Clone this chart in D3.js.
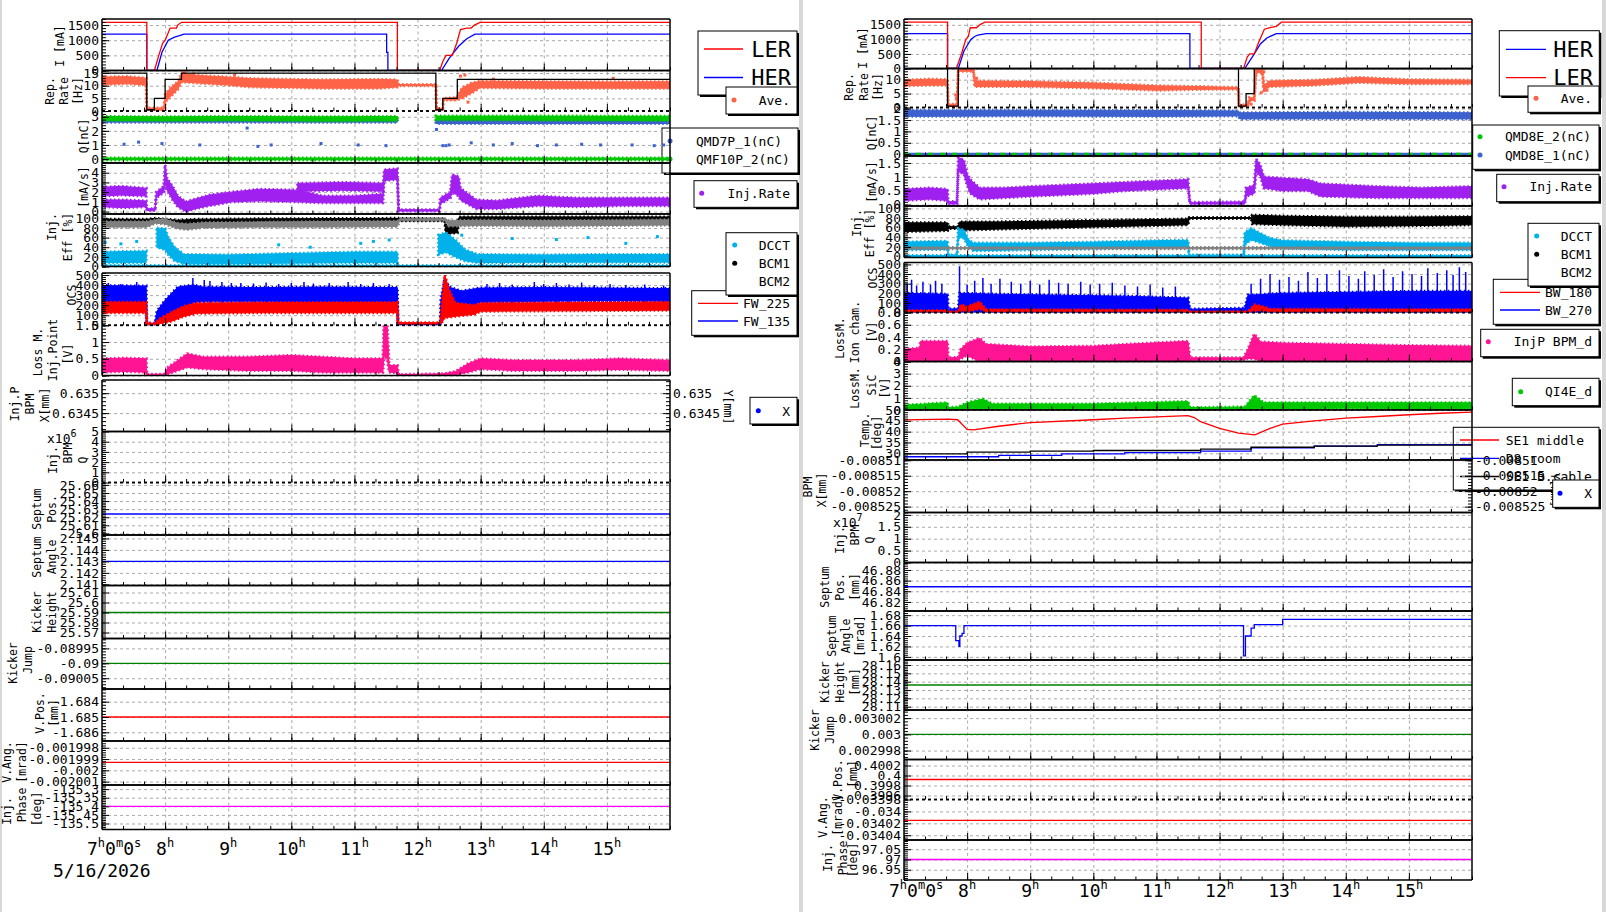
<!DOCTYPE html>
<html>
<head>
<meta charset="utf-8">
<script src="https://cdn.jsdelivr.net/npm/d3@7"></script>
<style>
  body { margin: 0; background: #fff; }
  svg text { font-family: "DejaVu Sans Mono", monospace; fill: #000; }
  .grid line { stroke: #a9a9a9; stroke-dasharray: 3,3; }
  .grid .domain { display: none; }
  .ax line { stroke: #000; stroke-width: 1; }
  .ax .domain { display: none; }
  .ax text { font-size: 13px; font-family: "DejaVu Sans Mono", monospace; }
  .ttl { font-size: 11.5px; }
  .lg { font-size: 13px; }
</style>
</head>
<body>
<svg id="chart" width="1606" height="912"></svg>
<script>
// time axis, hours of 5/16/2026
var T_DOMAIN = [7, 16];
var HOURS = [8, 9, 10, 11, 12, 13, 14, 15];

// ---------- left page ----------
var L_LER = [[7,1590],[7.71,1590],[7.71,0],[7.83,0],[7.9,500],[7.96,900],[8.0,1000],[8.04,1200],[8.08,1400],[8.18,1400],[8.2,1500],[8.26,1590],[11.68,1590],[11.68,0],[12.35,0],[12.4,300],[12.45,500],[12.55,500],[12.62,900],[12.68,1350],[12.78,1400],[12.85,1400],[12.9,1500],[12.99,1590],[16,1590]];
var L_HER = [[7,1200],[7.71,1200],[7.71,0],[7.87,0],[7.95,600],[8.05,1000],[8.15,1100],[8.23,1150],[8.3,1200],[11.51,1200],[11.51,600],[11.53,600],[11.53,0],[12.38,0],[12.5,400],[12.65,800],[12.78,1050],[12.91,1200],[16,1200]];
var L_RATE_SET = [[7,15],[7.71,15],[7.71,0.5],[7.83,0.5],[7.83,5],[8.0,5],[8.0,12.5],[8.26,12.5],[8.26,15],[12.29,15],[12.29,0.5],[12.4,0.5],[12.4,5],[12.63,5],[12.63,12.5],[16,12.5]];
var L_RATE = [[7,10.5,13.4],[7.4,10.8,13.6],[7.7,10.3,13],[7.71,0.3,1.2],[7.98,0.3,1.2],[8.0,3.5,6.5],[8.1,6,9.5],[8.2,8.5,11.5],[8.26,11.5,14.8],[8.55,11,14],[9.0,10.3,13.4],[9.35,9.5,12.8],[10.5,9,12.3],[11.4,9,12.5],[11.68,9.5,12.3],[11.7,10,10.5],[12.29,10,10.5],[12.3,0.3,1],[12.4,0.3,1],[12.41,4.3,5],[12.62,4.3,5.3],[12.7,5,9],[12.85,7,11],[12.99,9.2,11.8],[14,9,11.6],[15,9,11.5],[16,9,11.6]];
var L_RATE_OUT = [[8.3,15.2],[8.45,14.6],[9.1,14.2],[12.68,13.8],[12.75,14.2],[12.8,3.5],[13.2,12.6],[15.1,12.9]];
var L_QF = [[7,2.75,3.02],[8,2.72,3.0],[9,2.75,3.02],[10.5,2.7,3.0],[11.68,2.72,3.02],[11.68,null,null],[12.29,null,null],[12.29,2.78,3.05],[14,2.76,3.05],[16,2.74,3.04]];
var L_QD = [[7,2.62,2.85],[11.68,2.62,2.85],[11.68,null,null],[12.29,null,null],[12.29,2.52,2.78],[16,2.52,2.78]];
var L_QF0 = [[7,-0.06,0.08],[16,-0.06,0.08]];
var L_QD_PTS = [[7.0,1.0],[7.35,1.05],[7.58,1.2],[7.95,1.1],[8.55,1.0],[9.3,2.2],[9.47,0.9],[9.68,1.0],[10.47,1.1],[11.06,1.0],[11.5,0.95],[12.3,2.1],[12.4,0.95],[12.45,0.95],[12.5,1.0],[12.85,1.15],[13.2,1.0],[13.5,1.1],[13.9,0.95],[14.2,1.0],[14.6,1.05],[14.9,1.0],[15.4,1.0],[15.75,0.95],[15.9,1.0]];
var L_IR1 = [[7,0.5,1.2],[7.35,0.4,1.2],[7.7,0.5,1.1],[7.71,0.1,0.3],[7.84,0.1,0.3],[7.86,1.4,2.0],[7.98,2.0,2.6],[8.0,3.0,4.8],[8.03,2.2,3.4],[8.12,1.2,2.6],[8.2,0.5,1.6],[8.33,0.0,1.0],[8.48,0.3,1.3],[8.7,0.6,1.7],[9.05,1.0,2.0],[9.5,1.1,2.3],[10.1,1.0,2.2],[10.5,0.9,1.6],[11.0,0.9,1.6],[11.45,0.9,1.8],[11.47,3.2,4.3],[11.68,3.3,4.4],[11.7,0.05,0.2],[12.35,0.05,0.2],[12.36,0.8,1.4],[12.52,1.4,2.0],[12.55,2.0,3.8],[12.65,1.6,3.6],[12.68,1.2,2.4],[12.93,0.3,1.2],[13.25,0.3,1.1],[13.9,0.6,1.6],[14.5,0.5,1.4],[15.2,0.6,1.4],[16,0.6,1.4]];
var L_IR2 = [[7,1.6,2.5],[7.3,1.7,2.6],[7.7,1.6,2.4],[7.7,null,null],[10.1,null,null],[10.1,2.1,2.9],[10.8,2.2,3.0],[11.45,2.1,2.9]];
var L_EFF_D = [[7,8,30],[7.7,8,32],[7.71,null,null],[7.87,null,null],[7.87,40,80],[8.0,35,78],[8.05,25,60],[8.15,12,40],[8.3,6,25],[9.0,6,24],[10,7,27],[11,8,30],[11.68,8,30],[11.68,null,null],[12.33,null,null],[12.33,25,65],[12.45,30,70],[12.6,20,55],[12.75,12,35],[12.95,8,25],[14,9,24],[15,9,25],[16,9,25]];
var L_EFF_D0 = [[7,-1,2],[16,-1,2]];
var L_EFF_DOUT = [[7.05,50],[7.3,47],[7.55,52],[9.8,45],[10.3,40],[11.1,48],[11.3,52],[11.55,55],[12.7,65],[13.5,58],[14.2,56],[14.7,60],[15.3,48],[15.8,62]];
var L_EFF_G = [[7,82,93],[7.7,82,93],[7.85,90,97],[8.0,88,98],[8.2,79,90],[8.35,77,88],[8.6,81,91],[9.5,82,92],[10.5,82,93],[11.68,83,94],[11.72,96,99],[12.43,96,99],[12.5,84,95],[13,85,96],[14,84,95],[15,85,96],[16,86,97]];
var L_EFF_B = [[7,93,98],[7.7,93,98],[7.85,95,100],[8.2,88,96],[8.5,90,98],[9.5,94,99],[11.68,95,100],[12.43,95,99],[12.45,68,82],[12.63,70,84],[12.66,97,103],[16,97,103]];
var L_OCS_B = [[7,230,395],[7.7,230,390],[7.71,0,20],[7.84,0,20],[7.87,40,140],[8.0,80,250],[8.2,150,380],[8.45,230,400],[8.6,240,380],[9.5,240,375],[10.5,235,380],[11.68,235,375],[11.69,0,10],[12.36,0,10],[12.37,20,250],[12.43,100,460],[12.5,120,380],[12.7,150,340],[12.98,230,370],[14,240,375],[15,245,370],[16,240,365]];
var L_OCS_SPK = [[7.1,230,420],[7.3,230,410],[7.55,230,430],[8.44,200,470],[8.62,200,450],[8.71,200,440],[8.9,200,430],[9.05,200,420],[9.2,200,420],[9.4,200,415],[9.6,200,425],[9.8,200,410],[10.0,200,420],[10.2,200,430],[10.35,200,415],[10.6,200,420],[10.9,200,430],[11.1,200,410],[11.3,200,420],[11.55,200,410],[13.1,200,410],[13.3,200,420],[13.5,200,405],[13.85,200,430],[14.0,200,410],[14.2,200,420],[14.4,200,405],[14.6,200,425],[14.8,200,400],[15.05,200,410],[15.3,200,400],[15.6,200,405],[15.9,200,395]];
var L_OCS_R = [[7,125,230],[7.7,125,230],[7.71,0,20],[7.84,5,20],[7.9,15,60],[8.1,40,130],[8.3,90,190],[8.5,120,220],[9.5,125,225],[11.68,125,228],[11.69,15,25],[12.36,15,25],[12.4,40,300],[12.43,80,500],[12.5,80,350],[12.6,90,220],[12.9,110,200],[13.0,140,220],[16,150,230]];
var L_LM = [[7,0.1,0.5],[7.35,0.12,0.52],[7.7,0.1,0.5],[7.71,0,0.04],[7.98,0,0.04],[8.05,0.05,0.25],[8.2,0.15,0.45],[8.35,0.25,0.65],[8.6,0.2,0.55],[9.3,0.15,0.55],[10,0.15,0.6],[10.5,0.1,0.55],[11.0,0.1,0.5],[11.45,0.1,0.5],[11.47,0.6,1.7],[11.52,0.5,1.5],[11.55,0.1,0.3],[11.68,0.08,0.3],[11.7,0,0.03],[12.4,0,0.05],[12.6,0.02,0.12],[12.8,0.1,0.35],[13.0,0.2,0.5],[13.5,0.15,0.45],[14.5,0.15,0.45],[15.2,0.18,0.5],[16,0.15,0.45]];
var L_SP = [[7,25.624],[16,25.624]];
var L_SA = [[7,2.143],[16,2.143]];
var L_KH = [[7,25.59],[16,25.59]];
var L_KJ = [[7,-0.09],[16,-0.09]];
var L_VP = [[7,-1.685],[16,-1.685]];
var L_VA = [[7,-0.0019993],[16,-0.0019993]];
var L_PH = [[7,-135.4],[16,-135.4]];

var L_I_TICKS = [0, 500, 1000, 1500];
var L_RATE_TICKS = [0, 5, 10, 15];
var L_Q_TICKS = [0, 1, 2, 3];
var L_IR_TICKS = [0, 1, 2, 3, 4];
var EFF_TICKS = [0, 20, 40, 60, 80, 100];
var OCS_TICKS = [0, 100, 200, 300, 400, 500];
var L_LM_TICKS = [0, 0.5, 1, 1.5];
var L_BPMX_TICKS = [0.6345, 0.635];
var L_BPMQ_TICKS = [0, 1, 2, 3, 4, 5];
var L_SP_TICKS = [25.6, 25.61, 25.62, 25.63, 25.64, 25.65, 25.66];
var L_SA_TICKS = [2.141, 2.142, 2.143, 2.144, 2.145];
var L_KH_TICKS = [25.57, 25.58, 25.59, 25.6, 25.61];
var L_KJ_TICKS = [-0.09005, -0.09, -0.08995];
var L_VP_TICKS = [-1.686, -1.685, -1.684];
var L_VA_TICKS = [-0.002001, -0.002, -0.001999, -0.001998];
var L_PH_TICKS = [-135.5, -135.45, -135.4, -135.35, -135.3];

// ---------- right page ----------
var R_LER = [[7,1590],[7.69,1590],[7.69,0],[7.83,0],[7.91,500],[7.98,1000],[8.02,1100],[8.05,1400],[8.15,1400],[8.2,1500],[8.28,1590],[11.71,1590],[11.71,0],[12.38,0],[12.44,400],[12.48,500],[12.55,500],[12.62,900],[12.71,1350],[12.8,1400],[12.9,1450],[12.98,1590],[16,1590]];
var R_HER = [[7,1200],[7.69,1200],[7.69,0],[7.86,0],[7.95,600],[8.06,1000],[8.12,1100],[8.17,1150],[8.3,1200],[11.53,1200],[11.53,0],[12.4,0],[12.55,500],[12.65,850],[12.75,1050],[12.9,1200],[16,1200]];
var R_RATE_SET = [[7,14],[7.69,14],[7.69,0.5],[7.86,0.5],[7.86,14],[12.3,14],[12.3,0.5],[12.42,0.5],[12.42,5],[12.55,5],[12.55,14],[16,14]];
var R_RATE = [[7,7.8,9.8],[7.4,8,10.2],[7.69,8,10],[7.7,0.3,1.2],[7.84,0.3,1.2],[7.86,13,13.8],[8.1,13,13.8],[8.12,7.5,9.5],[9,7.5,9.3],[10,7,8.8],[11,6.2,7.8],[11.7,6.5,7.5],[12.3,6.6,7.2],[12.31,0.3,1.0],[12.45,0.3,1.0],[12.47,2.5,3.5],[12.55,2.5,3.5],[12.58,12.5,13.8],[12.68,12.5,13.8],[12.7,5.5,7.5],[12.78,7.5,9.5],[13.5,8,9.8],[14.2,9,10.8],[15,8.5,10],[16,8.5,9.8]];
var R_RATE_OUT = [[7.82,4.5],[7.83,3.2],[8.15,10.5],[12.7,12.8],[12.75,6.2],[12.66,5.3],[12.5,1.2]];
var R_QB = [[7,1.66,1.93],[9,1.68,1.93],[11,1.66,1.92],[12.3,1.68,1.9],[12.32,1.55,1.82],[14,1.56,1.84],[16,1.55,1.82]];
var R_Q0 = [[7,0],[16,0]];
var R_IR = [[7,0.15,0.55],[7.4,0.2,0.6],[7.69,0.15,0.55],[7.7,0.02,0.1],[7.84,0.02,0.12],[7.86,1.2,1.7],[7.95,1.1,1.6],[8.0,0.7,1.1],[8.05,0.4,0.9],[8.2,0.2,0.6],[8.6,0.25,0.6],[9.0,0.3,0.65],[9.5,0.35,0.7],[10,0.4,0.75],[10.5,0.5,0.8],[11,0.55,0.85],[11.5,0.6,0.9],[11.53,0.02,0.08],[12.4,0.02,0.1],[12.42,0.3,0.6],[12.55,0.4,0.7],[12.58,1.2,1.65],[12.65,1.0,1.4],[12.7,0.6,1.0],[13.0,0.5,0.95],[13.4,0.5,0.9],[13.6,0.3,0.75],[14.5,0.25,0.65],[15.2,0.25,0.6],[16,0.25,0.65]];
var R_EFF_B = [[7,52,70],[7.69,54,70],[7.7,58,62],[7.86,58,62],[7.88,55,72],[8.5,57,72],[9.5,60,74],[10.5,63,76],[11.5,66,78],[11.52,79,81],[12.5,79,81],[12.52,68,86],[13,66,84],[14,63,82],[15,64,82],[16,66,83]];
var R_EFF_D = [[7,14,30],[7.69,15,32],[7.7,0,3],[7.84,0,3],[7.86,40,58],[7.95,38,55],[8.02,20,35],[8.1,12,28],[9,14,28],[10,16,30],[11,18,33],[11.5,20,34],[11.52,0,3],[12.38,0,3],[12.4,25,50],[12.5,35,58],[12.62,30,50],[12.8,22,38],[13,18,33],[14,14,30],[15,14,28],[16,14,28]];
var R_EFF_D0 = [[7,-1,2],[16,-1,2]];
var R_EFF_G = [[7,16,19],[16,16,19]];
var R_OCS_B = [[7,0,200],[7.69,0,190],[7.7,0,35],[7.86,0,40],[7.88,0,200],[8.5,0,190],[9.5,0,180],[10.5,0,170],[11.5,0,150],[11.53,0,35],[12.4,0,45],[12.45,0,180],[13,0,200],[14,0,210],[15,0,220],[16,0,220]];
var R_OCS_SPK = [[7.05,0,300],[7.12,0,340],[7.2,0,280],[7.3,0,320],[7.42,0,290],[7.5,0,330],[7.6,0,300],[7.88,0,480],[8.0,0,290],[8.12,0,330],[8.25,0,360],[8.38,0,300],[8.52,0,350],[8.7,0,320],[8.85,0,300],[9.0,0,330],[9.15,0,290],[9.3,0,340],[9.45,0,310],[9.6,0,300],[9.8,0,320],[9.95,0,290],[10.1,0,300],[10.3,0,310],[10.5,0,280],[10.7,0,270],[10.9,0,290],[11.1,0,260],[11.3,0,270],[12.5,0,300],[12.65,0,350],[12.8,0,400],[12.95,0,340],[13.1,0,370],[13.25,0,330],[13.4,0,420],[13.55,0,360],[13.7,0,400],[13.9,0,440],[14.05,0,380],[14.2,0,350],[14.3,0,430],[14.45,0,390],[14.6,0,450],[14.75,0,370],[14.9,0,430],[15.05,0,400],[15.2,0,380],[15.3,0,460],[15.45,0,410],[15.6,0,440],[15.7,0,390],[15.8,0,470],[15.9,0,420]];
var R_OCS_R = [[7,5,20],[7.69,5,20],[7.7,0,8],[7.86,0,8],[7.9,20,80],[8.0,10,60],[8.2,40,110],[8.3,10,30],[11.5,10,25],[11.53,0,8],[12.45,0,10],[12.55,20,80],[12.7,20,60],[12.8,10,35],[16,10,30]];
var R_ION = [[7,0.0,0.2],[7.25,0.0,0.22],[7.26,0.0,0.33],[7.69,0.0,0.33],[7.7,0.02,0.06],[7.86,0.02,0.07],[7.9,0.05,0.2],[8.0,0.1,0.3],[8.2,0.0,0.38],[8.3,0.0,0.28],[9,0.0,0.24],[10,0.0,0.25],[10.5,0.0,0.28],[11.5,0.0,0.33],[11.53,0.02,0.06],[12.38,0.03,0.06],[12.45,0.05,0.2],[12.55,0.05,0.45],[12.65,0.0,0.32],[13,0.0,0.3],[14,0.0,0.28],[15,0.0,0.26],[16,0.0,0.25]];
var R_SIC = [[7,0.05,0.4],[7.69,0.1,0.6],[7.7,0.05,0.2],[7.86,0.05,0.25],[8.0,0.1,0.6],[8.25,0.1,0.9],[8.4,0.1,0.5],[10,0.1,0.5],[11.5,0.1,0.7],[11.53,0.05,0.2],[12.4,0.05,0.25],[12.55,0.1,1.2],[12.7,0.1,0.6],[14,0.15,0.6],[16,0.1,0.6]];
var R_T_SE1 = [[7,45.4],[7.7,45.8],[7.85,45.5],[8.0,41],[8.1,40.8],[8.5,42.5],[9,44.2],[10,45.5],[10.5,46.2],[11,46.8],[11.5,47.4],[11.6,46.5],[11.7,44.6],[12.0,41.5],[12.3,39.3],[12.56,38.5],[12.8,41.5],[13.0,43.5],[13.5,45],[14,46.2],[14.5,47],[15,47.8],[15.5,48.5],[16,49]];
var R_T_D8 = [[7,28.4],[8,28.4],[8.5,29],[9.5,29.7],[10.5,30.3],[11.7,31],[12.5,32.5],[13.5,33.3],[14.5,34],[16,34.5]];
var R_T_SB = [[7,29.7],[8.0,30.5],[9.0,31],[10,31.3],[11.7,31.9],[12.5,32.8],[13.5,33.3],[14.5,33.8],[16,34.2]];
var R_SP = [[7,46.8485],[16,46.8485]];
var R_SA = [[7,1.66],[7.82,1.66],[7.82,1.631],[7.87,1.631],[7.87,1.62],[7.885,1.62],[7.885,1.64],[7.92,1.64],[7.92,1.645],[7.95,1.645],[7.95,1.66],[12.38,1.66],[12.38,1.602],[12.41,1.602],[12.41,1.64],[12.5,1.64],[12.5,1.655],[12.55,1.655],[12.55,1.662],[13.0,1.662],[13.0,1.672],[16,1.672]];
var R_KH = [[7,28.136],[16,28.136]];
var R_KJ = [[7,0.003],[16,0.003]];
var R_VP = [[7,0.39992],[16,0.39992]];
var R_VA = [[7,-0.034015],[16,-0.034015]];
var R_PH = [[7,97],[16,97]];

var R_I_TICKS = [0, 500, 1000, 1500];
var R_RATE_TICKS = [0, 5, 10];
var R_Q_TICKS = [0, 0.5, 1, 1.5, 2];
var R_IR_TICKS = [0, 0.5, 1, 1.5];
var R_ION_TICKS = [0, 0.2, 0.4, 0.6, 0.8];
var R_SIC_TICKS = [0, 1, 2, 3, 4];
var R_T_TICKS = [30, 35, 40, 45, 50];
var R_BPMX_TICKS = [-0.008525, -0.00852, -0.008515, -0.00851];
var R_BPMQ_TICKS = [0, 0.5, 1, 1.5, 2];
var R_SP_TICKS = [46.82, 46.84, 46.86, 46.88];
var R_SA_TICKS = [1.6, 1.62, 1.64, 1.66, 1.68];
var R_KH_TICKS = [28.11, 28.12, 28.13, 28.14, 28.15, 28.16];
var R_KJ_TICKS = [0.002998, 0.003, 0.003002];
var R_VP_TICKS = [0.3996, 0.3998, 0.4, 0.4002];
var R_VA_TICKS = [-0.03404, -0.03402, -0.034, -0.03398];
var R_PH_TICKS = [96.95, 97, 97.05];

var RED = "#ff0000", BLUE = "#0000ff", ORANGE = "#ff6347", GREEN = "#00c800",
    QBLUE = "#3d62cf", PURPLE = "#a020f0", CYAN = "#00b2e9", GRAY = "#808080",
    PINK = "#ff1493", DKGREEN = "#008000", MAGENTA = "#ff00ff", BLACK = "#000";

var svg = d3.select("#chart");
var xL = d3.scaleLinear().domain(T_DOMAIN).range([102, 670]);
var xR = d3.scaleLinear().domain(T_DOMAIN).range([904, 1472]);
var MINOR_T = d3.range(0, 28).map(function(k) { return 7 + k / 3; });
var nclip = 0;

function fmt(d) { return String(+d.toPrecision(7)); }

function minorTicks(dom, ticks) {
  var st = (ticks.length > 1 ? ticks[1] - ticks[0] : 1) / 5;
  var lo = Math.min(dom[0], dom[1]), hi = Math.max(dom[0], dom[1]);
  var k0 = Math.ceil((lo - ticks[0]) / st - 1e-9), k1 = Math.floor((hi - ticks[0]) / st + 1e-9);
  var out = [];
  for (var k = k0; k <= k1; k++) out.push(ticks[0] + k * st);
  return out;
}

function drawSeries(g, s, x, y) {
  if (s.t == "band") {
    var area = d3.area()
      .defined(function(d) { return d[1] != null; })
      .x(function(d) { return x(d[0]); })
      .y0(function(d) { return y(d[1]); })
      .y1(function(d) { return y(d[2]); });
    g.append("path").attr("d", area(s.d))
      .attr("fill", s.c).attr("stroke", s.c).attr("stroke-width", 1);
    // ragged outline, scatter look
    g.append("path").attr("d", area(s.d))
      .attr("fill", "none").attr("stroke", s.c).attr("stroke-width", 3)
      .attr("stroke-dasharray", "1.5,2.5");
  } else if (s.t == "line") {
    var line = d3.line()
      .x(function(d) { return x(d[0]); })
      .y(function(d) { return y(d[1]); })
      .curve(s.step ? d3.curveStepAfter : d3.curveLinear);
    g.append("path").attr("d", line(s.d))
      .attr("fill", "none").attr("stroke", s.c)
      .attr("stroke-width", s.w || 1.3)
      .attr("stroke-dasharray", s.dash || null);
  } else if (s.t == "dots") {
    g.selectAll(null).data(s.d).enter().append("rect")
      .attr("x", function(d) { return x(d[0]) - 1.5; })
      .attr("y", function(d) { return y(d[1]) - 1.5; })
      .attr("width", 3).attr("height", 3).attr("fill", s.c);
  } else if (s.t == "spikes") {
    g.selectAll(null).data(s.d).enter().append("line")
      .attr("x1", function(d) { return x(d[0]); })
      .attr("x2", function(d) { return x(d[0]); })
      .attr("y1", function(d) { return y(d[1]); })
      .attr("y2", function(d) { return y(d[2]); })
      .attr("stroke", s.c).attr("stroke-width", 1.5);
  }
}

function panel(p, side, dashTop) {
  var x = side ? xR : xL;
  var x0 = x.range()[0], x1 = x.range()[1];
  var y = d3.scaleLinear().domain(p.dom).range([p.bot, p.top]);
  var g = svg.append("g");
  var id = "cp" + (nclip++);
  g.append("clipPath").attr("id", id).append("rect")
    .attr("x", x0).attr("y", p.top).attr("width", x1 - x0).attr("height", p.bot - p.top);

  g.append("g").attr("class", "grid").attr("transform", "translate(0," + p.bot + ")")
    .call(d3.axisBottom(x).tickValues(HOURS).tickSize(-(p.bot - p.top)).tickFormat(""));
  g.append("g").attr("class", "grid").attr("transform", "translate(" + x0 + ",0)")
    .call(d3.axisLeft(y).tickValues(p.ticks).tickSize(-(x1 - x0)).tickFormat(""));

  var dg = g.append("g").attr("clip-path", "url(#" + id + ")");
  (p.s || []).forEach(function(s) { drawSeries(dg, s, x, y); });

  // frame
  var edges = [[x0, p.top, x1, p.top, dashTop], [x0, p.bot, x1, p.bot, p.dash == "b"],
               [x0, p.top, x0, p.bot, false], [x1, p.top, x1, p.bot, false]];
  edges.forEach(function(e) {
    g.append("line").attr("x1", e[0]).attr("y1", e[1]).attr("x2", e[2]).attr("y2", e[3])
      .attr("stroke", "#000").attr("stroke-width", 1.5)
      .attr("stroke-dasharray", e[4] ? "3,3" : null);
  });

  // y axis
  g.append("g").attr("class", "ax").attr("transform", "translate(" + x0 + ",0)")
    .call(d3.axisLeft(y).tickValues(p.ticks).tickSizeInner(-7).tickSizeOuter(0).tickPadding(3).tickFormat(fmt));
  g.append("g").attr("class", "ax").attr("transform", "translate(" + x0 + ",0)")
    .call(d3.axisLeft(y).tickValues(minorTicks(p.dom, p.ticks)).tickSize(-4).tickFormat(""));
  if (p.right) {
    g.append("g").attr("class", "ax").attr("transform", "translate(" + x1 + ",0)")
      .call(d3.axisRight(y).tickValues(p.ticks).tickSizeInner(-7).tickSizeOuter(0).tickPadding(3).tickFormat(fmt));
    g.append("g").attr("class", "ax").attr("transform", "translate(" + x1 + ",0)")
      .call(d3.axisRight(y).tickValues(minorTicks(p.dom, p.ticks)).tickSize(-4).tickFormat(""));
    g.append("text").attr("class", "ttl")
      .attr("transform", "translate(" + p.right[0] + "," + p.right[1] + ") rotate(90)")
      .attr("text-anchor", "middle").attr("dy", "0.35em").text("Y[mm]");
  }

  // x ticks
  g.append("g").attr("class", "ax").attr("transform", "translate(0," + p.bot + ")")
    .call(d3.axisBottom(x).tickValues(HOURS).tickSize(-7).tickFormat(""));
  g.append("g").attr("class", "ax").attr("transform", "translate(0," + p.bot + ")")
    .call(d3.axisBottom(x).tickValues(MINOR_T).tickSize(-3.5).tickFormat(""));

  // titles
  p.tt.forEach(function(t) {
    g.append("text").attr("class", "ttl")
      .attr("transform", "translate(" + t[1] + "," + t[2] + ") rotate(-90)")
      .attr("text-anchor", "middle").attr("dy", "0.35em").text(t[0]);
  });
  if (p.mult) {
    var m = g.append("text").attr("x", p.mult[1]).attr("y", p.mult[2]).style("font-size", "13px");
    m.append("tspan").text("x10");
    m.append("tspan").attr("dy", -6).style("font-size", "10px").text(p.mult[0]);
  }
}

function timeAxis(x, baseY, date) {
  var first = svg.append("text").attr("x", x(7) - 15).attr("y", baseY).style("font-size", "18px");
  [["7", 0], ["h", 1], ["0", 0], ["m", 1], ["0", 0], ["s", 1]].forEach(function(p, i) {
    first.append("tspan").attr("dy", i == 0 ? 0 : (p[1] ? -8 : 8))
      .style("font-size", p[1] ? "12px" : "18px").text(p[0]);
  });
  HOURS.forEach(function(h) {
    var t = svg.append("text").attr("x", x(h)).attr("y", baseY)
      .attr("text-anchor", "middle").style("font-size", "18px");
    t.append("tspan").text(String(h));
    t.append("tspan").attr("dy", -8).style("font-size", "12px").text("h");
  });
  if (date) {
    svg.append("text").attr("x", 53).attr("y", baseY + 22).style("font-size", "18px").text(date);
  }
}

function legend(b) {
  svg.append("rect").attr("x", b.b[0] + 2).attr("y", b.b[1] + 2)
    .attr("width", b.b[2] - b.b[0]).attr("height", b.b[3] - b.b[1]).attr("fill", "#000");
  svg.append("rect").attr("x", b.b[0]).attr("y", b.b[1])
    .attr("width", b.b[2] - b.b[0]).attr("height", b.b[3] - b.b[1])
    .attr("fill", "#fff").attr("stroke", "#000").attr("stroke-width", 1);
  b.it.forEach(function(it) {
    if (it.k == "line") {
      svg.append("line").attr("x1", it.lx[0]).attr("x2", it.lx[1]).attr("y1", it.ky).attr("y2", it.ky)
        .attr("stroke", it.c).attr("stroke-width", 1.3);
    } else if (it.k == "dot") {
      svg.append("circle").attr("cx", it.kx).attr("cy", it.ky).attr("r", 2.5).attr("fill", it.c);
    }
    svg.append("text").attr("class", "lg")
      .attr("x", it.tx).attr("y", it.ty)
      .attr("text-anchor", it.a || "end")
      .style("font-size", (it.fs || 13) + "px").text(it.txt);
  });
}

var LEFT = [
  {top: 19, bot: 70.5, dom: [0, 1700], ticks: L_I_TICKS, tt: [["I [mA]", 60, 46]],
   s: [{t: "line", d: L_HER, c: BLUE}, {t: "line", d: L_LER, c: RED}]},
  {top: 70.5, bot: 111, dom: [0, 16], ticks: L_RATE_TICKS, dash: "b",
   tt: [["Rep.", 50, 91], ["Rate", 64, 91], ["[Hz]", 78, 91]],
   s: [{t: "band", d: L_RATE, c: ORANGE}, {t: "dots", d: L_RATE_OUT, c: ORANGE}, {t: "line", d: L_RATE_SET, c: BLACK}]},
  {top: 111, bot: 163, dom: [-0.28, 3.41], ticks: L_Q_TICKS, tt: [["Q[nC]", 84, 136]],
   s: [{t: "band", d: L_QD, c: QBLUE}, {t: "band", d: L_QF, c: GREEN}, {t: "band", d: L_QF0, c: GREEN},
       {t: "dots", d: L_QD_PTS, c: QBLUE}]},
  {top: 163, bot: 214, dom: [-0.25, 5.0], ticks: L_IR_TICKS, tt: [["[mA/s]", 84, 187]],
   s: [{t: "band", d: L_IR1, c: PURPLE}, {t: "band", d: L_IR2, c: PURPLE}]},
  {top: 214, bot: 266.5, dom: [0, 109], ticks: EFF_TICKS, tt: [["Inj.", 52, 227], ["Eff [%]", 68, 237]],
   s: [{t: "band", d: L_EFF_B, c: BLACK}, {t: "band", d: L_EFF_G, c: GRAY},
       {t: "band", d: L_EFF_D, c: CYAN}, {t: "band", d: L_EFF_D0, c: CYAN}, {t: "dots", d: L_EFF_DOUT, c: CYAN}]},
  {top: 273, bot: 325.3, dom: [0, 520], ticks: OCS_TICKS, dash: "b", tt: [["OCS", 72, 295]],
   s: [{t: "band", d: L_OCS_B, c: BLUE}, {t: "spikes", d: L_OCS_SPK, c: BLUE}, {t: "band", d: L_OCS_R, c: RED}]},
  {top: 325.3, bot: 375.5, dom: [0, 1.5], ticks: L_LM_TICKS,
   tt: [["Loss M.", 38, 352], ["Inj.Point", 53, 350], ["[V]", 68, 354]],
   s: [{t: "band", d: L_LM, c: PINK}]},
  {top: 380, bot: 431.5, dom: [0.63404, 0.63533], ticks: L_BPMX_TICKS, right: [728, 407],
   tt: [["Inj.P", 15, 404], ["BPM", 30, 404], ["X[mm]", 45, 405]]},
  {top: 431.5, bot: 482.5, dom: [0, 5], ticks: L_BPMQ_TICKS, dash: "b", mult: ["6", 47, 443],
   tt: [["Inj.", 53, 460], ["BPM", 68, 453], ["Q", 83, 460]]},
  {top: 482.5, bot: 535, dom: [25.598, 25.663], ticks: L_SP_TICKS,
   tt: [["Septum", 37, 509], ["Pos.", 52, 509]], s: [{t: "line", d: L_SP, c: BLUE}]},
  {top: 535, bot: 585.5, dom: [2.1409, 2.1453], ticks: L_SA_TICKS,
   tt: [["Septum", 37, 557], ["Angle", 52, 557]], s: [{t: "line", d: L_SA, c: BLUE}]},
  {top: 585.5, bot: 638.5, dom: [25.564, 25.617], ticks: L_KH_TICKS,
   tt: [["Kicker", 37, 612], ["Height", 52, 612]], s: [{t: "line", d: L_KH, c: DKGREEN}]},
  {top: 638.5, bot: 689, dom: [-0.090086, -0.089917], ticks: L_KJ_TICKS,
   tt: [["Kicker", 13, 663], ["Jump", 28, 660]], s: [{t: "line", d: L_KJ, c: DKGREEN}]},
  {top: 689, bot: 741, dom: [-1.68657, -1.68317], ticks: L_VP_TICKS,
   tt: [["V.Pos.", 40, 713], ["[mm]", 54, 713]], s: [{t: "line", d: L_VP, c: RED}]},
  {top: 741, bot: 785, dom: [-0.0020013, -0.0019974], ticks: L_VA_TICKS,
   tt: [["V.Ang.", 7, 762], ["[mrad]", 22, 762]], s: [{t: "line", d: L_VA, c: RED}]},
  {top: 785, bot: 829.5, dom: [-135.535, -135.276], ticks: L_PH_TICKS,
   tt: [["Inj.", 7, 811], ["Phase", 22, 805], ["[deg]", 37, 809]], s: [{t: "line", d: L_PH, c: MAGENTA}]}
];

var RIGHT = [
  {top: 19, bot: 68.5, dom: [0, 1700], ticks: R_I_TICKS, tt: [["I [mA]", 863, 48]],
   s: [{t: "line", d: R_HER, c: BLUE}, {t: "line", d: R_LER, c: RED}]},
  {top: 68.5, bot: 107.5, dom: [0, 14], ticks: R_RATE_TICKS, dash: "b",
   tt: [["Rep.", 849, 87], ["Rate", 864, 87], ["[Hz]", 878, 87]],
   s: [{t: "band", d: R_RATE, c: ORANGE}, {t: "dots", d: R_RATE_OUT, c: ORANGE}, {t: "line", d: R_RATE_SET, c: BLACK}]},
  {top: 107.5, bot: 156, dom: [-0.08, 2.05], ticks: R_Q_TICKS, tt: [["Q[nC]", 872, 133]],
   s: [{t: "band", d: R_QB, c: QBLUE}, {t: "line", d: R_Q0, c: QBLUE, w: 3},
       {t: "line", d: R_Q0, c: GREEN, w: 3, dash: "5,7"}]},
  {top: 156, bot: 206, dom: [-0.05, 1.75], ticks: R_IR_TICKS, tt: [["[mA/s]", 872, 182]],
   s: [{t: "band", d: R_IR, c: PURPLE}]},
  {top: 206, bot: 257.5, dom: [-2, 105], ticks: EFF_TICKS, tt: [["Inj.", 857, 223], ["Eff [%]", 870, 233]],
   s: [{t: "band", d: R_EFF_B, c: BLACK}, {t: "band", d: R_EFF_D, c: CYAN},
       {t: "band", d: R_EFF_D0, c: CYAN}, {t: "band", d: R_EFF_G, c: GRAY}]},
  {top: 262.5, bot: 312.5, dom: [0, 520], ticks: OCS_TICKS, dash: "b", tt: [["OCS", 873, 278]],
   s: [{t: "band", d: R_OCS_B, c: BLUE}, {t: "spikes", d: R_OCS_SPK, c: BLUE}, {t: "band", d: R_OCS_R, c: RED}]},
  {top: 312.5, bot: 361.5, dom: [0, 0.8], ticks: R_ION_TICKS,
   tt: [["LossM.", 840, 338], ["Ion cham.", 855, 332], ["[V]", 872, 332]],
   s: [{t: "band", d: R_ION, c: PINK}]},
  {top: 361.5, bot: 410, dom: [0, 4], ticks: R_SIC_TICKS,
   tt: [["LossM.", 855, 388], ["SiC", 872, 385], ["[V]", 885, 388]],
   s: [{t: "band", d: R_SIC, c: GREEN}]},
  {top: 410, bot: 460, dom: [26.9, 50], ticks: R_T_TICKS,
   tt: [["Temp.", 865, 430], ["[deg]", 877, 433]],
   s: [{t: "line", d: R_T_D8, c: BLUE, step: true}, {t: "line", d: R_T_SB, c: BLACK, step: true},
       {t: "line", d: R_T_SE1, c: RED}]},
  {top: 460, bot: 512.5, dom: [-0.0085269, -0.0085099], ticks: R_BPMX_TICKS, right: [1555, 490],
   tt: [["BPM", 808, 487], ["X[mm]", 822, 490]]},
  {top: 512.5, bot: 562.5, dom: [0, 2.1], ticks: R_BPMQ_TICKS, mult: ["7", 833, 527],
   tt: [["Inj.", 840, 540], ["BPM", 855, 535], ["Q", 870, 540]]},
  {top: 562.5, bot: 611, dom: [46.803, 46.894], ticks: R_SP_TICKS,
   tt: [["Septum", 825, 587], ["Pos.", 840, 587], ["[mm]", 855, 587]], s: [{t: "line", d: R_SP, c: BLUE}]},
  {top: 611, bot: 660, dom: [1.594, 1.688], ticks: R_SA_TICKS,
   tt: [["Septum", 832, 636], ["Angle", 846, 636], ["[mrad]", 860, 636]], s: [{t: "line", d: R_SA, c: BLUE}]},
  {top: 660, bot: 710, dom: [28.106, 28.166], ticks: R_KH_TICKS,
   tt: [["Kicker", 825, 682], ["Height", 840, 682], ["[mm]", 855, 682]], s: [{t: "line", d: R_KH, c: DKGREEN}]},
  {top: 710, bot: 759.5, dom: [0.0029969, 0.003003], ticks: R_KJ_TICKS,
   tt: [["Kicker", 815, 730], ["Jump", 830, 730]], s: [{t: "line", d: R_KJ, c: DKGREEN}]},
  {top: 759.5, bot: 799.5, dom: [0.39952, 0.40032], ticks: R_VP_TICKS, dash: "b",
   tt: [["V.Pos.", 838, 780], ["[mm]", 853, 774]], s: [{t: "line", d: R_VP, c: RED}]},
  {top: 799.5, bot: 840, dom: [-0.034048, -0.03398], ticks: R_VA_TICKS,
   tt: [["V.Ang.", 823, 817], ["[mrad]", 838, 815]], s: [{t: "line", d: R_VA, c: RED}]},
  {top: 840, bot: 880, dom: [96.9, 97.095], ticks: R_PH_TICKS,
   tt: [["Inj.", 828, 858], ["Phase", 843, 858], ["[deg]", 853, 860]], s: [{t: "line", d: R_PH, c: MAGENTA}]}
];

var LEG_L = [
  {b: [698, 31, 797, 95], it: [
    {k: "line", c: RED, lx: [704, 743], ky: 49, txt: "LER", tx: 791, ty: 57, fs: 22},
    {k: "line", c: BLUE, lx: [704, 743], ky: 77.5, txt: "HER", tx: 791, ty: 85, fs: 22}]},
  {b: [726, 87, 797, 114], it: [{k: "dot", c: ORANGE, kx: 734, ky: 100, txt: "Ave.", tx: 790, ty: 104.5}]},
  {b: [662, 128, 798, 173], it: [
    {k: "dot", c: QBLUE, kx: 670, ky: 141, txt: "QMD7P_1(nC)", tx: 696, ty: 145.5, a: "start"},
    {k: "dot", c: GREEN, kx: 670, ky: 159, txt: "QMF10P_2(nC)", tx: 696, ty: 163.5, a: "start"}]},
  {b: [694, 180.7, 797, 207.3], it: [{k: "dot", c: PURPLE, kx: 701.7, ky: 193.3, txt: "Inj.Rate", tx: 790, ty: 198}]},
  {b: [691.7, 290.7, 797, 335.3], it: [
    {k: "line", c: RED, lx: [698, 738], ky: 303.3, txt: "FW_225", tx: 790, ty: 308},
    {k: "line", c: BLUE, lx: [698, 738], ky: 321, txt: "FW_135", tx: 790, ty: 325.5}]},
  {b: [726, 232.7, 797, 295], it: [
    {k: "dot", c: CYAN, kx: 734.7, ky: 245, txt: "DCCT", tx: 790, ty: 249.5},
    {k: "dot", c: BLACK, kx: 734.7, ky: 263.3, txt: "BCM1", tx: 790, ty: 268},
    {k: null, txt: "BCM2", tx: 790, ty: 286}]}
];
var LEG_R = [
  {b: [1499.3, 30.7, 1599.3, 96], it: [
    {k: "line", c: BLUE, lx: [1506, 1546], ky: 49.3, txt: "HER", tx: 1593, ty: 57, fs: 22},
    {k: "line", c: RED, lx: [1506, 1546], ky: 77.7, txt: "LER", tx: 1593, ty: 85, fs: 22}]},
  {b: [1528, 86, 1599, 112.3], it: [{k: "dot", c: ORANGE, kx: 1536, ky: 98.3, txt: "Ave.", tx: 1592, ty: 103}]},
  {b: [1472.7, 125, 1599, 169.3], it: [
    {k: "dot", c: GREEN, kx: 1480, ky: 136.7, txt: "QMD8E_2(nC)", tx: 1505, ty: 141, a: "start"},
    {k: "dot", c: QBLUE, kx: 1480, ky: 155, txt: "QMD8E_1(nC)", tx: 1505, ty: 159.5, a: "start"}]},
  {b: [1496.7, 174.3, 1599, 201.7], it: [{k: "dot", c: PURPLE, kx: 1504, ky: 186.7, txt: "Inj.Rate", tx: 1592, ty: 191}]},
  {b: [1493.3, 279.3, 1599, 324.3], it: [
    {k: "line", c: RED, lx: [1500, 1540], ky: 292.3, txt: "BW_180", tx: 1592, ty: 296.5},
    {k: "line", c: BLUE, lx: [1500, 1540], ky: 310, txt: "BW_270", tx: 1592, ty: 314.5}]},
  {b: [1528, 223.3, 1599, 286], it: [
    {k: "dot", c: CYAN, kx: 1536.7, ky: 236, txt: "DCCT", tx: 1592, ty: 240.5},
    {k: "dot", c: BLACK, kx: 1536.7, ky: 254.3, txt: "BCM1", tx: 1592, ty: 258.5},
    {k: null, txt: "BCM2", tx: 1592, ty: 276.5}]},
  {b: [1480.7, 329.3, 1599, 356.7], it: [{k: "dot", c: PINK, kx: 1488.3, ky: 341.7, txt: "InjP BPM_d", tx: 1592, ty: 346}]},
  {b: [1512.3, 378.3, 1599, 405.7], it: [{k: "dot", c: GREEN, kx: 1520.7, ky: 391.7, txt: "QI4E_d", tx: 1592, ty: 396}]},
  {b: [1453.3, 427.3, 1599, 490], it: [
    {k: "line", c: RED, lx: [1460, 1499], ky: 440, txt: "SE1 middle", tx: 1505.7, ty: 444.5, a: "start"},
    {k: "line", c: BLUE, lx: [1460, 1499], ky: 458.3, txt: "D8 room", tx: 1505.7, ty: 462.8, a: "start"},
    {k: "line", c: BLACK, lx: [1460, 1499], ky: 476.5, txt: "SE1 B.cable", tx: 1505.7, ty: 481, a: "start"}]}
];
var LEG_X = [
  {b: [750, 397.3, 797, 424], it: [{k: "dot", c: BLUE, kx: 758.3, ky: 410.7, txt: "X", tx: 790, ty: 415.5}]},
  {b: [1552.7, 480, 1599, 507.3], it: [{k: "dot", c: BLUE, kx: 1560, ky: 493.3, txt: "X", tx: 1592, ty: 497.5}]}
];

// page borders
[[0, 2], [799, 4], [1602, 4]].forEach(function(r) {
  svg.append("rect").attr("x", r[0]).attr("y", 0).attr("width", r[1]).attr("height", 912).attr("fill", "#d8d8d8");
});

LEG_L.forEach(legend);
LEG_R.forEach(legend);

[LEFT, RIGHT].forEach(function(list, side) {
  list.forEach(function(p, i) {
    var prev = list[i - 1];
    panel(p, side, prev && prev.dash == "b" && prev.bot == p.top);
  });
});

LEG_X.forEach(legend);

timeAxis(xL, 855, "5/16/2026");
timeAxis(xR, 897, null);
</script>
</body>
</html>
